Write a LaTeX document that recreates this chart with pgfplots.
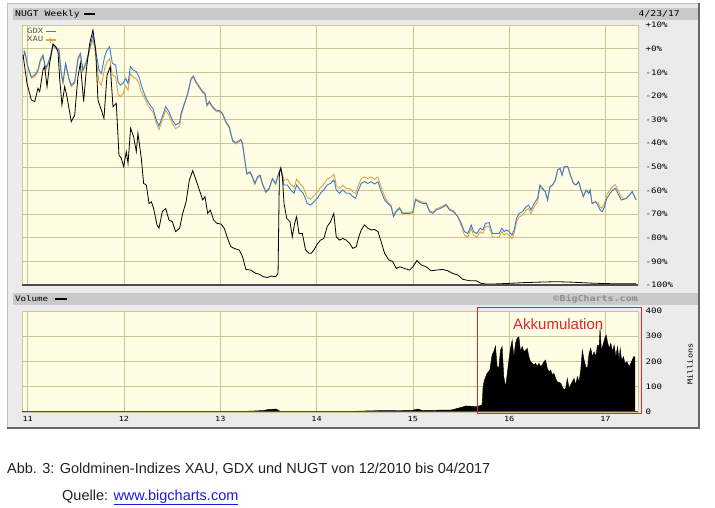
\documentclass[border=0pt]{standalone}
\usepackage{pgfplots}
\pgfplotsset{compat=1.18}
\usepackage{fontspec}
\setmainfont{Liberation Sans}
\newfontfamily\pixfont[FakeStretch=1.22]{DejaVu Sans Mono}
\definecolor{chartbg}{HTML}{EBEBEB}
\definecolor{barbg}{HTML}{C9C9C9}
\definecolor{plotbg}{HTML}{FFFDE3}
\definecolor{gridc}{HTML}{CBC496}
\definecolor{gdxblue}{HTML}{3A7BD5}
\definecolor{xauorange}{HTML}{DCA547}
\definecolor{akkred}{HTML}{E0262B}
\definecolor{linkblue}{HTML}{1A1AE6}
\definecolor{captxt}{HTML}{222222}

\pgfplotstableread{
x y
10.952 -2.7
10.993 -14.7
11.038 -21.7
11.073 -22.4
11.107 -16.8
11.125 -18.2
11.159 -9.0
11.176 -7.6
11.201 -16.1
11.228 -6.2
11.263 2.0
11.291 0.8
11.315 -1.3
11.332 -12.6
11.356 -23.8
11.384 -16.1
11.408 -20.3
11.453 -30.9
11.488 -28.1
11.522 -11.9
11.547 -6.2
11.581 -22.4
11.609 -9.0
11.644 2.2
11.678 7.9
11.706 -0.6
11.730 -21.7
11.765 -26.0
11.792 -29.5
11.824 -11.2
11.858 -7.6
11.886 -24.6
11.920 -23.1
11.948 -45.0
11.972 -46.4
11.997 -49.9
12.024 -43.6
12.042 -48.5
12.069 -33.7
12.100 -37.2
12.128 -43.6
12.145 -35.8
12.180 -46.4
12.204 -57.0
12.232 -57.7
12.260 -65.5
12.284 -64.8
12.308 -67.6
12.343 -74.6
12.363 -76.0
12.398 -69.0
12.433 -67.6
12.467 -72.5
12.502 -73.2
12.536 -77.4
12.578 -76.0
12.610 -69.7
12.645 -64.8
12.679 -55.6
12.714 -51.6
12.748 -55.6
12.783 -59.8
12.817 -64.0
12.841 -62.6
12.869 -69.7
12.897 -68.3
12.931 -72.5
12.966 -73.9
13.007 -74.2
13.041 -76.0
13.076 -80.3
13.110 -83.8
13.145 -84.5
13.197 -85.2
13.231 -88.0
13.266 -93.4
13.317 -93.7
13.369 -95.1
13.403 -95.4
13.448 -96.5
13.490 -96.8
13.531 -96.2
13.576 -96.5
13.600 -95.1
13.614 -52.5
13.628 -50.6
13.645 -54.2
13.662 -65.5
13.690 -71.8
13.724 -73.2
13.748 -79.6
13.772 -73.9
13.793 -71.1
13.817 -78.2
13.852 -78.2
13.886 -85.2
13.921 -86.6
13.945 -86.6
13.972 -85.2
14.007 -82.7
14.041 -81.0
14.076 -80.3
14.110 -75.3
14.145 -73.2
14.179 -69.7
14.204 -79.6
14.239 -81.0
14.273 -80.3
14.308 -81.0
14.343 -82.4
14.377 -84.5
14.412 -83.8
14.439 -79.6
14.464 -76.7
14.498 -74.6
14.533 -76.0
14.567 -76.7
14.602 -76.5
14.637 -77.4
14.671 -81.7
14.706 -86.6
14.751 -89.4
14.792 -90.1
14.827 -93.0
14.862 -92.3
14.913 -93.0
14.965 -93.7
15.000 -92.3
15.042 -89.7
15.087 -91.5
15.138 -92.3
15.190 -94.0
15.242 -93.7
15.311 -93.4
15.363 -94.0
15.415 -95.1
15.467 -95.8
15.519 -97.6
15.588 -98.2
15.657 -98.2
15.709 -99.3
15.761 -99.6
15.796 -99.6
15.900 -99.5
16.000 -99.3
16.150 -99.0
16.300 -98.8
16.500 -98.6
16.650 -98.8
16.850 -99.2
17.000 -99.4
17.150 -99.5
17.319 -99.5
}\nugt

\pgfplotstableread{
x y
10.952 -4.1
10.969 -1.3
11.003 -7.6
11.038 -11.9
11.073 -11.2
11.107 -9.0
11.131 -4.8
11.159 -2.7
11.187 -8.3
11.211 -6.2
11.235 -3.4
11.263 1.5
11.291 0.8
11.325 -0.6
11.349 -10.5
11.367 -14.0
11.394 -6.2
11.429 -12.6
11.453 -15.4
11.488 -14.0
11.522 -4.1
11.547 -2.0
11.574 -9.0
11.609 -5.5
11.644 0.1
11.678 5.8
11.706 -0.6
11.740 -9.0
11.765 -10.5
11.799 -3.4
11.824 -0.6
11.851 0.8
11.879 -6.2
11.913 -6.9
11.938 -14.0
11.962 -15.4
11.990 -14.7
12.017 -12.6
12.042 -14.7
12.066 -7.6
12.093 -9.0
12.128 -9.7
12.156 -11.9
12.180 -15.4
12.215 -19.6
12.249 -22.4
12.284 -24.6
12.301 -25.3
12.336 -30.2
12.363 -32.7
12.398 -28.8
12.433 -24.6
12.467 -26.7
12.502 -30.2
12.536 -32.3
12.578 -31.3
12.593 -27.4
12.628 -23.1
12.662 -18.9
12.697 -12.6
12.721 -11.6
12.748 -14.0
12.783 -16.1
12.817 -18.2
12.841 -18.9
12.862 -23.8
12.886 -22.4
12.921 -24.6
12.955 -26.0
12.990 -26.2
13.024 -27.4
13.059 -30.9
13.093 -33.0
13.128 -38.7
13.162 -39.8
13.197 -38.9
13.214 -38.4
13.231 -40.1
13.255 -47.1
13.276 -52.8
13.310 -52.1
13.334 -54.2
13.359 -57.0
13.386 -54.2
13.414 -53.5
13.438 -57.0
13.472 -60.5
13.507 -59.1
13.541 -54.9
13.576 -57.0
13.600 -53.5
13.628 -50.6
13.662 -57.7
13.697 -57.7
13.731 -59.8
13.766 -61.2
13.793 -57.7
13.828 -59.8
13.862 -61.2
13.903 -65.5
13.938 -66.2
13.972 -64.8
14.007 -63.3
14.041 -61.2
14.076 -59.8
14.110 -57.7
14.145 -57.0
14.179 -55.6
14.187 -56.3
14.204 -59.8
14.239 -61.2
14.273 -59.8
14.308 -61.2
14.343 -61.2
14.377 -62.6
14.405 -63.3
14.429 -60.5
14.464 -57.0
14.498 -56.3
14.533 -57.0
14.567 -56.3
14.602 -57.3
14.637 -56.3
14.671 -60.5
14.706 -64.0
14.740 -65.5
14.775 -66.9
14.799 -71.1
14.827 -69.0
14.862 -67.6
14.889 -69.7
14.924 -69.7
14.965 -69.7
15.000 -69.4
15.028 -64.0
15.062 -64.8
15.104 -65.5
15.138 -65.5
15.173 -69.0
15.208 -69.7
15.242 -68.3
15.284 -67.6
15.318 -66.9
15.346 -66.2
15.381 -68.3
15.422 -69.0
15.467 -71.1
15.502 -73.9
15.536 -77.4
15.571 -78.2
15.606 -74.6
15.630 -77.4
15.664 -78.2
15.699 -76.0
15.727 -76.7
15.754 -73.9
15.792 -73.6
15.826 -78.2
15.861 -78.2
15.896 -78.2
15.924 -76.0
15.948 -77.4
15.972 -76.7
16.000 -77.4
16.028 -78.9
16.052 -76.7
16.076 -71.8
16.104 -69.7
16.139 -69.0
16.174 -66.9
16.201 -66.2
16.226 -68.3
16.260 -65.5
16.295 -63.3
16.319 -57.7
16.347 -59.1
16.375 -60.5
16.399 -64.0
16.424 -58.4
16.451 -57.7
16.479 -55.6
16.503 -51.4
16.528 -50.6
16.549 -53.5
16.573 -49.9
16.608 -49.9
16.642 -54.2
16.667 -57.0
16.694 -57.7
16.722 -56.3
16.747 -59.8
16.771 -62.6
16.799 -59.8
16.826 -61.2
16.840 -59.8
16.861 -65.5
16.896 -64.8
16.920 -66.2
16.944 -68.3
16.965 -69.0
16.990 -66.9
17.014 -63.3
17.049 -61.2
17.076 -59.8
17.104 -59.1
17.128 -61.2
17.163 -64.0
17.188 -63.8
17.215 -63.3
17.250 -61.9
17.278 -60.5
17.302 -62.6
17.319 -64.0
}\gdx

\pgfplotstableread{
x y
10.952 -1.0
10.969 -1.5
11.003 -8.3
11.038 -12.6
11.073 -11.9
11.107 -9.7
11.131 -5.5
11.159 -3.4
11.187 -9.0
11.211 -6.9
11.235 -4.1
11.263 1.0
11.291 0.1
11.325 -1.3
11.349 -11.2
11.367 -14.7
11.394 -6.9
11.429 -13.3
11.453 -16.1
11.488 -14.7
11.522 -4.8
11.547 -2.7
11.574 -9.7
11.609 -6.2
11.644 -0.6
11.678 4.0
11.706 -2.5
11.740 -14.0
11.765 -15.5
11.799 -8.4
11.824 -5.6
11.851 -4.2
11.879 -11.2
11.913 -11.9
11.938 -19.0
11.962 -20.4
11.990 -19.0
12.017 -15.6
12.042 -17.7
12.066 -10.6
12.093 -12.0
12.128 -12.7
12.156 -14.9
12.180 -18.4
12.215 -21.1
12.249 -23.9
12.284 -26.1
12.301 -26.8
12.336 -31.7
12.363 -34.2
12.398 -30.3
12.433 -26.1
12.467 -28.2
12.502 -31.7
12.536 -33.8
12.578 -32.8
12.593 -28.4
12.628 -23.6
12.662 -19.4
12.697 -13.1
12.721 -12.1
12.748 -14.5
12.783 -16.6
12.817 -18.7
12.841 -19.4
12.862 -24.3
12.886 -22.9
12.921 -25.1
12.955 -26.5
12.990 -26.7
13.024 -27.9
13.059 -31.4
13.093 -33.5
13.128 -39.2
13.162 -40.3
13.197 -39.4
13.214 -38.9
13.231 -40.6
13.255 -47.6
13.276 -53.3
13.310 -52.6
13.334 -54.7
13.359 -57.5
13.386 -54.7
13.414 -54.0
13.438 -57.5
13.472 -61.0
13.507 -59.6
13.541 -55.4
13.576 -57.5
13.600 -54.0
13.628 -50.1
13.662 -55.7
13.697 -55.2
13.731 -57.3
13.766 -58.7
13.793 -55.2
13.828 -57.3
13.862 -58.7
13.903 -63.0
13.938 -63.7
13.972 -62.3
14.007 -60.8
14.041 -58.7
14.076 -57.3
14.110 -55.2
14.145 -54.5
14.179 -53.1
14.187 -53.8
14.204 -57.8
14.239 -59.2
14.273 -57.8
14.308 -59.2
14.343 -59.2
14.377 -60.6
14.405 -61.3
14.429 -58.5
14.464 -55.0
14.498 -54.3
14.533 -55.0
14.567 -54.3
14.602 -55.3
14.637 -54.3
14.671 -58.5
14.706 -62.5
14.740 -65.0
14.775 -66.4
14.799 -70.6
14.827 -68.5
14.862 -67.1
14.889 -69.2
14.924 -69.2
14.965 -69.2
15.000 -68.9
15.028 -63.5
15.062 -64.3
15.104 -65.0
15.138 -65.0
15.173 -68.5
15.208 -69.2
15.242 -67.8
15.284 -67.1
15.318 -66.4
15.346 -65.7
15.381 -67.8
15.422 -68.5
15.467 -71.1
15.502 -74.9
15.536 -78.9
15.571 -79.7
15.606 -76.1
15.630 -78.9
15.664 -79.7
15.699 -77.5
15.727 -78.2
15.754 -75.4
15.792 -75.1
15.826 -79.7
15.861 -79.7
15.896 -79.7
15.924 -77.5
15.948 -78.9
15.972 -78.2
16.000 -78.9
16.028 -80.4
16.052 -78.2
16.076 -73.3
16.104 -71.2
16.139 -70.5
16.174 -68.4
16.201 -67.7
16.226 -69.8
16.260 -67.0
16.295 -64.8
16.319 -58.7
16.347 -59.6
16.375 -60.5
16.399 -64.0
16.424 -58.4
16.451 -57.7
16.479 -55.6
16.503 -51.4
16.528 -50.6
16.549 -53.5
16.573 -49.9
16.608 -49.9
16.642 -54.2
16.667 -57.0
16.694 -57.7
16.722 -56.3
16.747 -59.8
16.771 -62.6
16.799 -59.8
16.826 -61.2
16.840 -59.8
16.861 -65.5
16.896 -64.8
16.920 -65.2
16.944 -67.0
16.965 -67.5
16.990 -65.4
17.014 -61.8
17.049 -59.7
17.076 -58.3
17.104 -57.6
17.128 -59.7
17.163 -62.8
17.188 -63.3
17.215 -63.3
17.250 -61.9
17.278 -60.5
17.302 -62.6
17.319 -64.0
}\xau

\pgfplotstableread{
x y
10.945 0
13.200 0
13.280 3
13.350 4
13.450 6
13.500 10
13.580 12
13.620 3
13.700 1
14.000 1
14.300 2
14.600 5
14.900 6
15.000 7
15.050 12
15.100 6
15.400 8
15.500 18
15.550 24
15.600 23
15.660 21
15.719 28
15.729 100
15.743 127
15.771 153
15.799 166
15.823 226
15.840 239
15.858 261
15.875 180
15.892 173
15.910 245
15.927 259
15.944 140
15.962 100
15.979 146
15.997 206
16.014 252
16.031 285
16.049 219
16.066 272
16.083 292
16.101 298
16.118 239
16.135 259
16.153 239
16.170 245
16.188 252
16.205 219
16.222 199
16.240 193
16.257 186
16.274 193
16.292 180
16.309 193
16.326 180
16.344 186
16.361 199
16.378 206
16.396 173
16.413 160
16.431 166
16.448 147
16.465 153
16.483 133
16.500 120
16.535 114
16.552 100
16.569 87
16.587 94
16.604 133
16.622 94
16.639 107
16.656 120
16.674 133
16.691 107
16.708 140
16.726 120
16.743 166
16.760 245
16.778 206
16.795 180
16.813 173
16.830 232
16.847 252
16.865 219
16.882 239
16.899 219
16.917 265
16.934 259
16.944 331
16.958 245
16.979 272
16.993 292
17.007 305
17.021 278
17.038 252
17.056 272
17.073 239
17.090 265
17.108 219
17.125 259
17.142 206
17.153 252
17.167 206
17.188 219
17.201 193
17.222 199
17.247 180
17.271 199
17.292 219
17.306 219
}\volume

\begin{document}
\begin{tikzpicture}
\path[use as bounding box] (0,0) rectangle (715pt,-508pt);
\fill[white] (0,0) rectangle (715pt,-508pt);
% chart frame
\fill[chartbg] (7pt,-3pt) rectangle (699pt,-428pt);
\draw[black!25, line width=0.6pt] (7pt,-428pt) -- (7pt,-3pt) -- (699pt,-3pt);
\draw[black!60, line width=1.2pt] (7pt,-428pt) -- (699pt,-428pt) -- (699pt,-3pt);
\fill[barbg] (13pt,-8pt) rectangle (698pt,-20pt);
\fill[barbg] (13pt,-293pt) rectangle (698pt,-305pt);

% title bar texts
\node[anchor=west, inner sep=0pt, font=\pixfont\fontsize{8}{8}\selectfont] at (15pt,-14pt) {NUGT Weekly};
\draw[black, line width=2pt] (84pt,-14pt) -- (95pt,-14pt);
\node[anchor=east, inner sep=0pt, font=\pixfont\fontsize{8}{8}\selectfont] at (680pt,-13.5pt) {4/23/17};
\node[anchor=west, inner sep=0pt, font=\pixfont\fontsize{7.5}{7.5}\selectfont] at (15pt,-299pt) {Volume};
\draw[black, line width=2pt] (55pt,-299pt) -- (67pt,-299pt);
\node[anchor=east, inner sep=0pt, text=black!45, font=\pixfont\bfseries\fontsize{8.2}{8.2}\selectfont] at (638pt,-299pt) {©BigCharts.com};
\node[rotate=90, inner sep=0pt, font=\pixfont\fontsize{7}{7}\selectfont] at (690pt,-364pt) {Millions};

\begin{axis}[
  at={(22pt,-25pt)}, anchor=north west,
  scale only axis, width=616pt, height=260pt,
  xmin=10.941, xmax=17.338, ymin=-100, ymax=10,
  axis background/.style={fill=plotbg},
  axis line style={gridc},
  grid=major, major grid style={gridc, line width=0.6pt},
  major tick length=0pt,
  xtick={11,12,13,14,15,16,17}, xticklabels={},
  ytick={-100,-90,-80,-70,-60,-50,-40,-30,-20,-10,0,10},
  yticklabels={-100\%,-90\%,-80\%,-70\%,-60\%,-50\%,-40\%,-30\%,-20\%,-10\%,+0\%,+10\%},
  yticklabel pos=right,
  yticklabel style={anchor=west, xshift=4pt, font=\pixfont\fontsize{7.5}{7.5}\selectfont},
  legend style={at={(rel axis cs:0,1)}, anchor=north west, draw=none, fill=none,
    xshift=3pt, yshift=-1pt, inner sep=0pt, row sep=-2.5pt,
    font=\pixfont\fontsize{7.3}{7.3}\selectfont, text=black!65},
  legend plot pos=right, legend cell align=left,
  legend image code/.code={\draw[mark repeat=2,mark phase=2,#1] plot coordinates {(0cm,0cm) (0.17cm,0cm) (0.34cm,0cm)};},
]
\addlegendimage{gdxblue, line width=1.2pt}
\addlegendentry{GDX}
\addlegendimage{xauorange, line width=1.2pt, mark=+, mark size=2.5pt, mark options={line width=0.9pt}}
\addlegendentry{XAU}
\addplot[xauorange, line width=0.9pt, forget plot] table[x=x,y=y] {\xau};
\addplot[gdxblue, line width=0.9pt, forget plot] table[x=x,y=y] {\gdx};
\addplot[black, line width=0.8pt, forget plot] table[x=x,y=y] {\nugt};
\draw[black!70, line width=1.3pt] (rel axis cs:0,0) -- (rel axis cs:1,0);
\end{axis}

\begin{axis}[
  at={(22pt,-311pt)}, anchor=north west,
  scale only axis, width=616pt, height=101pt,
  xmin=10.941, xmax=17.338, ymin=0, ymax=400,
  axis background/.style={fill=plotbg},
  axis line style={gridc},
  grid=major, major grid style={gridc, line width=0.6pt},
  major tick length=0pt,
  xtick={11,12,13,14,15,16,17}, xticklabels={11,12,13,14,15,16,17},
  xticklabel style={yshift=-1pt, font=\pixfont\fontsize{7}{7}\selectfont},
  ytick={0,100,200,300,400}, yticklabels={0,100,200,300,400},
  yticklabel pos=right,
  yticklabel style={anchor=west, xshift=4pt, font=\pixfont\fontsize{7.5}{7.5}\selectfont},
]
\addplot[fill=black, draw=black, line width=0.4pt] table[x=x,y=y] {\volume} \closedcycle;
\draw[black!70, line width=1.3pt] (rel axis cs:0,0) -- (rel axis cs:1,0);
\end{axis}

% annotation
\draw[akkred, line width=0.9pt] (477pt,-307pt) rectangle (641pt,-413pt);
\node[anchor=base west, inner sep=0pt, text=akkred, font=\fontsize{15}{15}\selectfont] at (513pt,-329pt) {Akkumulation};

% caption
\node[anchor=base west, inner sep=0pt, text=captxt, font=\fontsize{14.5}{14.5}\selectfont] at (7pt,-473pt) {Abb. 3: Goldminen-Indizes XAU, GDX und NUGT von 12/2010 bis 04/2017};
\node[anchor=base west, inner sep=0pt, text=captxt, font=\fontsize{14.5}{14.5}\selectfont] at (62pt,-500pt) {Quelle: \textcolor{linkblue}{\underline{www.bigcharts.com}}};
\end{tikzpicture}
\end{document}
